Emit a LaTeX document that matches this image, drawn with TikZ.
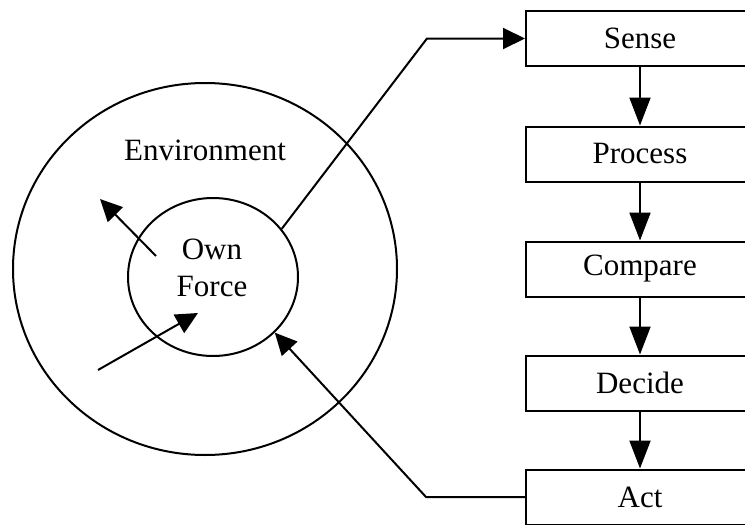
\documentclass[tikz,border=0pt]{standalone}
\usepackage{fontspec}
\setmainfont{Liberation Serif}
\usetikzlibrary{arrows.meta,shapes.geometric}
\begin{document}
\begin{tikzpicture}[x=1pt,y=-1pt,line width=2pt,
                    font=\fontsize{31}{37}\selectfont,
                    stage/.style={draw,rectangle,minimum width=228pt,minimum height=55pt,inner sep=0pt},
                    ring/.style={draw,ellipse,inner sep=0pt},
                    tip/.style={-{Triangle[length=22pt,width=21pt]}},
                    downtip/.style={-{Triangle[length=28pt,width=21pt]}}]
                    \useasboundingbox (0,0) rectangle (745,525);
                    \clip (0,0) rectangle (745,525);

                    \node[ring,minimum width=384pt,minimum height=372pt] (env) at (205,269) {};
                    \node[ring,minimum width=170pt,minimum height=158pt] (own) at (213,277) {};
                    \node (envlbl) at (205,150) {Environment};
                    \node[align=center] (ownlbl) at (212,268) {Own\\Force};

                    \node[stage] (sense) at (640,38.5) {Sense};
                    \node[stage] (process) at (640,154) {Process};
                    \node[stage] (compare) at (640,269) {Compare};
                    \node[stage] (decide) at (640,383) {Decide};
                    \node[stage] (act) at (640,497) {Act};
                    \foreach \a/\b in {sense/process,process/compare,compare/decide,decide/act}
                        \draw[downtip] (\a) -- (\b);

                    \coordinate (sensebend) at (427,38.5);
                    \coordinate (actbend) at (426,497);
                    \draw[tip] (own.35) -- (sensebend) -- (sense.west);
                    \draw[tip] (act.west) -- (actbend) -- (own.-42);

                    \coordinate (outstart) at (156,256);
                    \coordinate (outend) at (100,199);
                    \coordinate (instart) at (98,370);
                    \coordinate (inend) at (198,313);
                    \draw[tip] (outstart) -- (outend);
                    \draw[tip] (instart) -- (inend);
                \end{tikzpicture}
\end{document}
